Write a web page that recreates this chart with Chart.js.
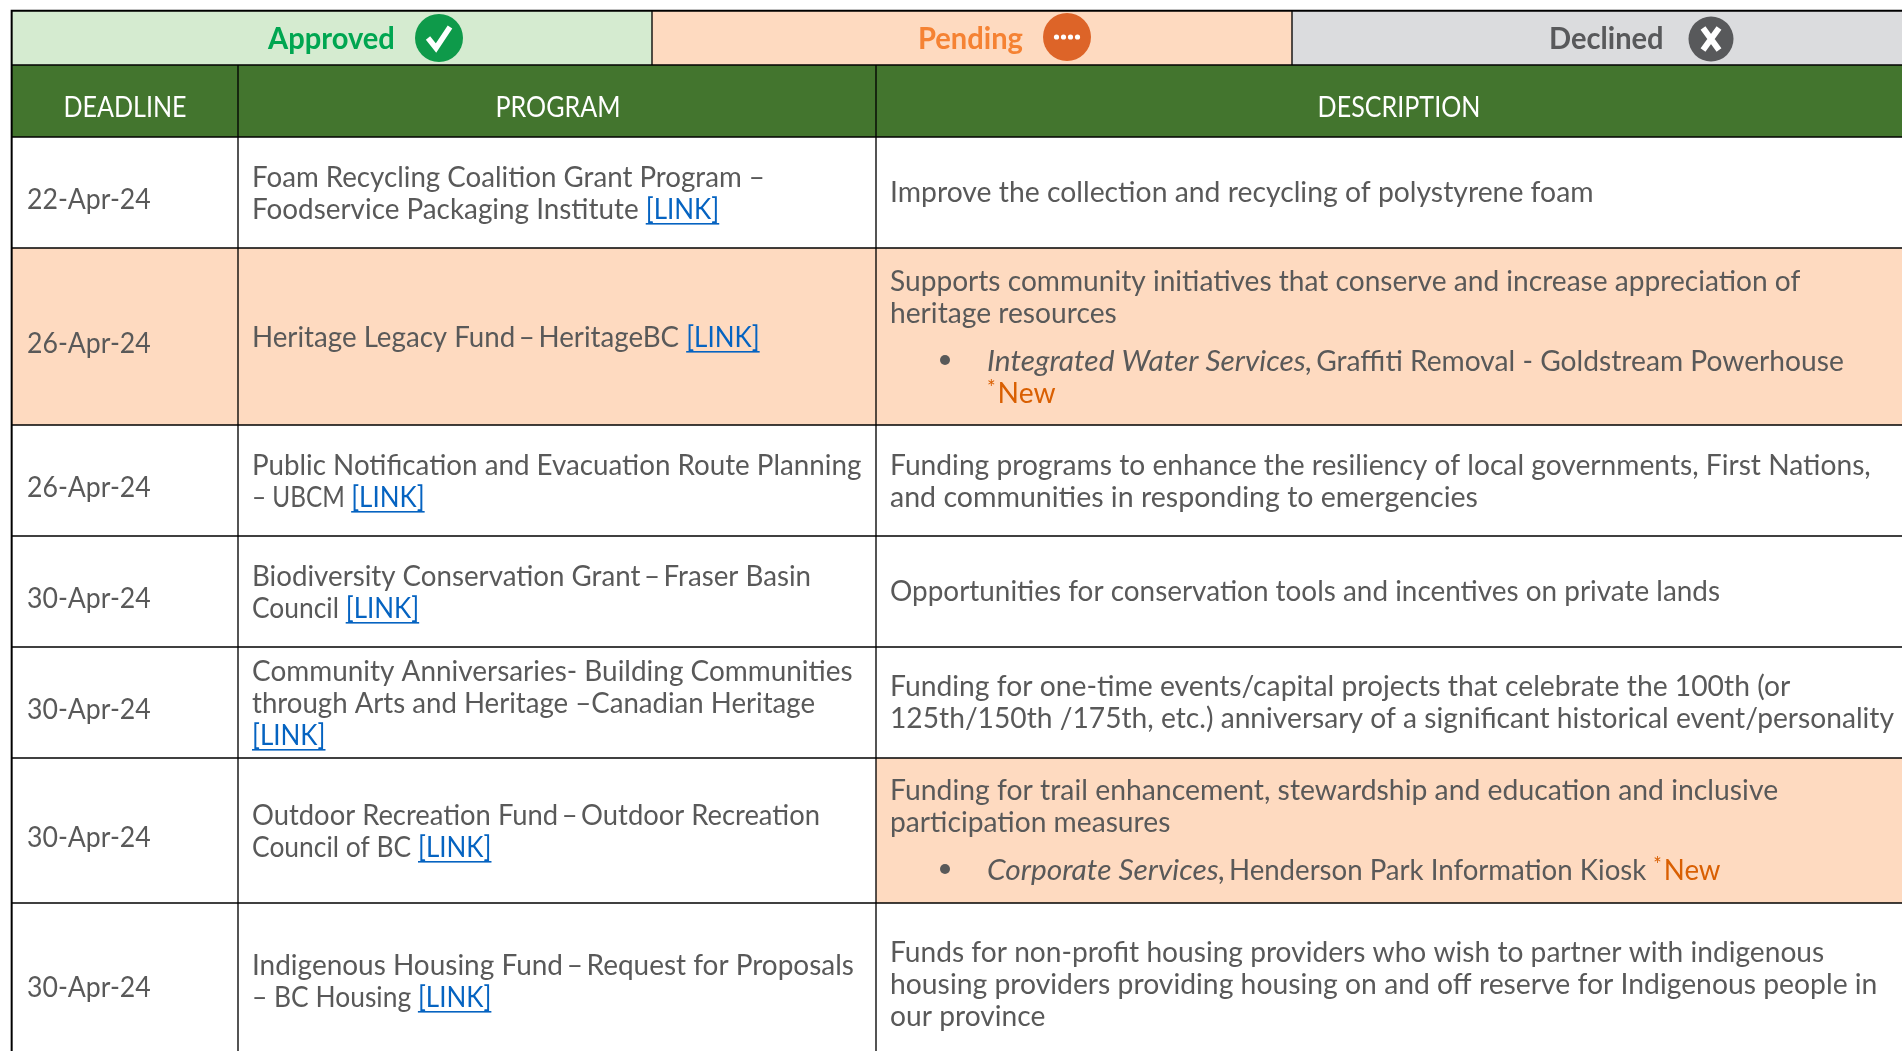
<!DOCTYPE html>
<html><head><meta charset="utf-8">
<style>html,body{margin:0;padding:0;background:#fff;overflow:hidden}canvas{display:block}</style>
<script src="https://cdn.jsdelivr.net/npm/chart.js@4"></script></head>
<body><canvas id="c" width="1902" height="1051" style="width:1902px;height:1051px"></canvas>
<script>
// ---- table content ----
const statuses = ["Approved","Pending","Declined"];
const columns = ["DEADLINE","PROGRAM","DESCRIPTION"];
const deadlines = ["22-Apr-24","26-Apr-24","26-Apr-24","30-Apr-24","30-Apr-24","30-Apr-24","30-Apr-24"];
const programs = [
 ["Foam Recycling Coalition Grant Program –","Foodservice Packaging Institute [LINK]"],
 ["Heritage Legacy Fund – HeritageBC [LINK]"],
 ["Public Notification and Evacuation Route Planning","– UBCM [LINK]"],
 ["Biodiversity Conservation Grant – Fraser Basin","Council [LINK]"],
 ["Community Anniversaries- Building Communities","through Arts and Heritage –Canadian Heritage","[LINK]"],
 ["Outdoor Recreation Fund – Outdoor Recreation","Council of BC [LINK]"],
 ["Indigenous Housing Fund – Request for Proposals","– BC Housing [LINK]"]
];
const descriptions = [
 ["Improve the collection and recycling of polystyrene foam"],
 ["Supports community initiatives that conserve and increase appreciation of","heritage resources"],
 ["Funding programs to enhance the resiliency of local governments, First Nations,","and communities in responding to emergencies"],
 ["Opportunities for conservation tools and incentives on private lands"],
 ["Funding for one-time events/capital projects that celebrate the 100th (or","125th/150th /175th, etc.) anniversary of a significant historical event/personality"],
 ["Funding for trail enhancement, stewardship and education and inclusive","participation measures"],
 ["Funds for non-profit housing providers who wish to partner with indigenous","housing providers providing housing on and off reserve for Indigenous people in","our province"]
];
const bulletLines = [null,
 ["_Integrated Water Services,_ Graffiti Removal - Goldstream Powerhouse","*New"],
 null,null,null,
 ["_Corporate Services,_ Henderson Park Information Kiosk *New"],
 null];
const rowPending = [null,"all",null,null,null,"desc",null];

// ---- layout (table geometry and text fitting, separate from content) ----
const colEdges = [12,238,876,1906];
const bannerEdges = [12,652,1292,1906];
const rowEdges = [65,137,248,425,536,647,758,903,1066];
const dateBase = [209,353,497,608,719,847,997];
const progBase = [187,347,475,586,681,825,975];
const descBase = [202,291,475,601,696,800,962];
const bulletBase = [null,371,null,null,null,880,null];
const bulletY = [null,360,null,null,null,869,null];
const bannerText = [{x:268,b:49},{x:918,b:49},{x:1549,b:49}];
const headerCx = [125,558,1399];
const progFit = [[.955,.96],[.955],[.957,.84],[.955,.91],[.963,.952,.96],[.944,.911],[.964,.91]];
const descFit = [[.977],[.969,.972],[.972,.984],[.962],[.975,.972],[.977,.972],[.970,.976,.972]];
const bulletFit = [null,[.972,.972],null,null,null,[.952],null];

const C = {line:"#000",text:"#595959",link:"#0563C1",newc:"#D95F02",head:"#43752E",peach:"#FEDAC0",
 banner:["#D5EBD0","#FEDAC0","#DBDCDE"],bannerInk:["#00A651","#F58233","#58595B"],icon:["#0E9A4A","#DD6428","#58595B"]};
const FF = "Lato", SIZE = 29;
const COND = {date:0.919,link:0.895,italic:1.03,head:0.865,banner:0.97};

function rect(l,r,t,b,color){
  return {type:"bar",grouped:false,data:[{x:[l,r],y:(t+b)/2}],backgroundColor:color,barThickness:b-t,borderWidth:0};
}
const ds = [];
ds.push(rect(11,1906,10,1066,C.line));
for(let i=0;i<3;i++) ds.push(rect(bannerEdges[i]+1,bannerEdges[i+1]-1,12,rowEdges[0]-1,C.banner[i]));
for(let i=0;i<3;i++) ds.push(rect(colEdges[i]+1,colEdges[i+1]-1,rowEdges[0]+1,rowEdges[1]-1,C.head));
deadlines.forEach((_,r)=>{
  for(let i=0;i<3;i++){
    const p=rowPending[r]==="all"||(rowPending[r]==="desc"&&i===2);
    ds.push(rect(colEdges[i]+1,colEdges[i+1]-1,rowEdges[r+1]+1,rowEdges[r+2]-1,p?C.peach:"#fff"));
  }
});
ds.reverse(); // Chart.js paints the first dataset last

function put(ctx,t,x,y,font,color,cond){
  ctx.save();ctx.font=font;ctx.fillStyle=color;ctx.textAlign="left";ctx.textBaseline="alphabetic";
  const w=ctx.measureText(t).width*cond;
  ctx.translate(x,y);ctx.scale(cond,1);ctx.fillText(t,0,0);ctx.restore();
  return w;
}
function drawRuns(ctx,x,y,line,cond){
  const parts=line.split(/(\[LINK\]| – |\*New|_[^_]+_)/).filter(Boolean);
  const reg=`${SIZE}px ${FF}`;
  let cur=x;
  for(const p of parts){
    if(p==="[LINK]"){
      const w=put(ctx,p,cur,y,reg,C.link,COND.link);
      ctx.fillStyle=C.link;ctx.fillRect(cur,y+4,w,1.6);cur+=w;
    }else if(p===" – "){
      ctx.font=reg;const w=ctx.measureText(p).width*cond-7;
      const dw=ctx.measureText("–").width*cond;
      put(ctx,"–",cur+(w-dw)/2,y,reg,C.text,cond);cur+=w;
    }else if(p==="*New"){
      cur+=put(ctx,"*",cur,y-8,`${SIZE*0.72}px ${FF}`,C.newc,cond)+2;
      cur+=put(ctx,"New",cur,y,reg,C.newc,cond);
    }else if(p[0]==="_"){
      cur+=put(ctx,p.slice(1,-1),cur,y,`italic ${SIZE}px ${FF}`,C.text,COND.italic)-3.5;
    }else{
      cur+=put(ctx,p,cur,y,reg,C.text,cond);
    }
  }
}
const tablePlugin={id:"tableText",afterDatasetsDraw(ch){
  const ctx=ch.ctx,sx=ch.scales.x,sy=ch.scales.y;
  const px=v=>sx.getPixelForValue(v),py=v=>sy.getPixelForValue(v);
  const icons=[{x:439,y:38,r:24},{x:1067,y:37,r:24},{x:1711,y:39,r:22.5}];
  statuses.forEach((s,i)=>{
    put(ctx,s,px(bannerText[i].x),py(bannerText[i].b),`bold 30px ${FF}`,C.bannerInk[i],COND.banner);
    const cx=px(icons[i].x),cy=py(icons[i].y);
    ctx.fillStyle=C.icon[i];ctx.beginPath();ctx.arc(cx,cy,icons[i].r,0,7);ctx.fill();
    ctx.strokeStyle="#fff";ctx.fillStyle="#fff";ctx.lineCap="butt";ctx.lineJoin="miter";
    if(i===0){ctx.lineWidth=5.5;ctx.beginPath();ctx.moveTo(cx-11,cy);ctx.lineTo(cx-3,cy+10);ctx.lineTo(cx+11,cy-11);ctx.stroke();}
    if(i===1){for(let k=0;k<4;k++){ctx.beginPath();ctx.arc(cx-10.5+k*7,cy,2.6,0,7);ctx.fill();}}
    if(i===2){ctx.lineWidth=6;ctx.beginPath();ctx.moveTo(cx-8,cy-11);ctx.lineTo(cx+8,cy+11);ctx.moveTo(cx+8,cy-11);ctx.lineTo(cx-8,cy+11);ctx.stroke();}
  });
  columns.forEach((t,i)=>{
    const font=`${SIZE}px ${FF}`;ctx.font=font;
    const w=ctx.measureText(t).width*COND.head;
    put(ctx,t,px(headerCx[i])-w/2,py(117),font,"#fff",COND.head);
  });
  const LH=32;
  deadlines.forEach((d,r)=>{
    drawRuns(ctx,px(27),py(dateBase[r]),d,COND.date);
    programs[r].forEach((l,k)=>drawRuns(ctx,px(252),py(progBase[r]+k*LH),l,progFit[r][k]));
    descriptions[r].forEach((l,k)=>drawRuns(ctx,px(890),py(descBase[r]+k*LH),l,descFit[r][k]));
    if(bulletLines[r]){
      ctx.fillStyle=C.text;ctx.beginPath();ctx.arc(px(945),py(bulletY[r]),5,0,7);ctx.fill();
      bulletLines[r].forEach((l,k)=>drawRuns(ctx,px(987),py(bulletBase[r]+k*LH),l,bulletFit[r][k]));
    }
  });
}};
new Chart(document.getElementById("c"),{
  type:"bar",data:{datasets:ds},plugins:[tablePlugin],
  options:{indexAxis:"y",responsive:false,animation:false,events:[],devicePixelRatio:1,
    layout:{padding:0},
    plugins:{legend:{display:false},tooltip:{enabled:false},title:{display:false}},
    scales:{x:{type:"linear",min:0,max:1902,display:false,offset:false},y:{type:"linear",min:0,max:1051,reverse:true,display:false,offset:false}}}
});
</script></body></html>
